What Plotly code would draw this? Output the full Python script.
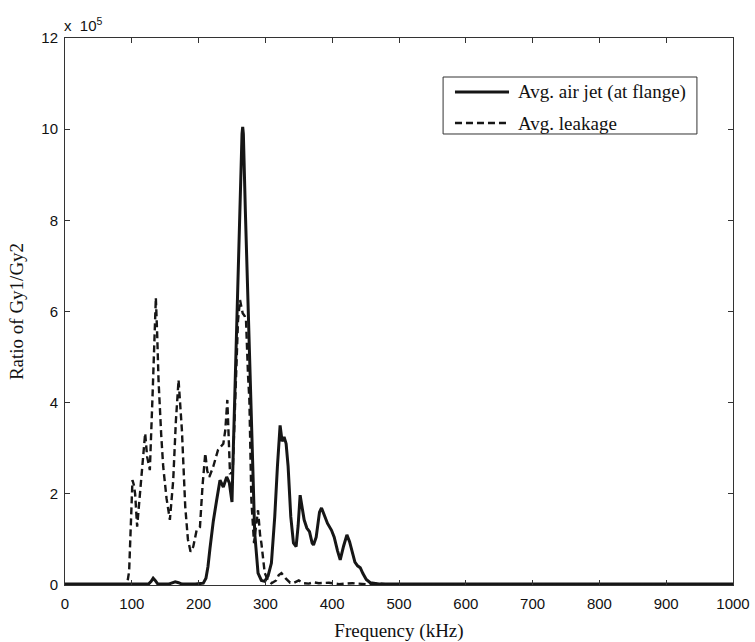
import plotly.graph_objects as go

# Frequency axis (kHz) and Gy1/Gy2 ratio (in units of 1e5) for the air-jet case
freq_air_jet = [0, 60, 110, 125, 129, 132, 135, 139, 155, 160, 165, 170, 175, 195, 207,
                211, 214, 217, 222, 227, 232, 237, 242, 246, 250, 252, 257, 262, 265,
                266, 267, 270, 274, 279, 284, 289, 294, 299, 304, 309, 314, 318, 322,
                325, 328, 331, 334, 338, 342, 346, 349, 352, 355, 358, 362, 366, 370,
                372, 376, 381, 384, 388, 393, 399, 403, 408, 412, 417, 422, 426, 430,
                434, 438, 442, 446, 451, 457, 470, 600, 800, 1000]
ratio_air_jet = [0.02, 0.02, 0.02, 0.02, 0.08, 0.15, 0.1, 0.02, 0.02, 0.05, 0.07, 0.05,
                 0.02, 0.02, 0.04, 0.15, 0.4, 0.8, 1.4, 1.86, 2.3, 2.15, 2.37, 2.24, 1.82,
                 3.0, 5.7, 8.6, 9.9, 10.05, 9.9, 8.2, 6.25, 3.3, 1.14, 0.26, 0.1, 0.08,
                 0.2, 0.48, 1.5, 2.6, 3.5, 3.15, 3.25, 3.1, 2.6, 1.5, 0.92, 0.84, 1.3,
                 1.97, 1.7, 1.43, 1.25, 1.17, 0.92, 0.88, 1.05, 1.6, 1.69, 1.55, 1.35,
                 1.2, 1.05, 0.75, 0.55, 0.85, 1.1, 0.95, 0.75, 0.5, 0.42, 0.38, 0.25,
                 0.12, 0.05, 0.02, 0.02, 0.02, 0.02]

# Leakage case
freq_leakage = [0, 93, 96, 99, 101, 103, 105, 108, 112, 116, 120, 123, 127, 131, 134, 136,
                138, 140, 144, 147, 152, 157, 162, 166, 170, 172, 175, 180, 184, 188, 192,
                197, 202, 206, 210, 213, 216, 222, 229, 237, 240, 243, 245, 247, 251, 255,
                259, 262, 264, 266, 269, 271, 274, 276, 279, 283, 286, 289, 292, 294, 299,
                304, 309, 316, 320, 324, 330, 337, 343, 350, 357, 365, 372, 380, 395, 410,
                430, 450, 470, 490, 1000]
ratio_leakage = [0.02, 0.02, 0.3, 1.5, 2.3, 2.2, 2.0, 1.28, 2.0, 2.8, 3.33, 2.81, 2.52,
                 4.13, 5.6, 6.3, 5.5, 4.5, 3.3, 2.6, 1.9, 1.43, 2.3, 3.6, 4.5, 4.1, 3.4,
                 1.72, 1.0, 0.73, 0.84, 1.2, 1.27, 2.2, 2.89, 2.5, 2.37, 2.6, 2.96, 3.1,
                 3.4, 4.06, 3.2, 2.45, 2.45, 4.2, 5.8, 6.25, 6.1, 5.96, 5.9, 5.8, 4.6,
                 4.06, 1.86, 0.92, 1.3, 1.64, 1.1, 0.92, 0.26, 0.1, 0.04, 0.1, 0.22, 0.26,
                 0.15, 0.05, 0.05, 0.1, 0.04, 0.03, 0.06, 0.04, 0.05, 0.02, 0.04, 0.02,
                 0.03, 0.0, 0.0]

series_names = ["Avg. air jet (at flange)", "Avg. leakage"]
x_ticks = list(range(0, 1001, 100))
y_ticks = list(range(0, 13, 2))

ink = "#161616"
frame = "#333"
serif = "Liberation Serif, Times New Roman, serif"
sans = "Liberation Sans, Arial, sans-serif"

line_styles = [dict(color=ink, width=3),
               dict(color=ink, width=2.4, dash="7px,4px")]

fig = go.Figure()
fig.add_trace(go.Scatter(x=freq_air_jet, y=ratio_air_jet, mode="lines",
                         name=series_names[0], showlegend=False, line=line_styles[0]))
fig.add_trace(go.Scatter(x=freq_leakage, y=ratio_leakage, mode="lines",
                         name=series_names[1], showlegend=False, line=line_styles[1]))

axis_common = dict(showline=True, linecolor=frame, linewidth=1, mirror="ticks",
                   ticks="inside", ticklen=5, tickcolor=frame, showgrid=False,
                   zeroline=False, automargin=False,
                   tickfont=dict(family=sans, size=15, color="#111"))

fig.update_xaxes(range=[0, 1000], tickvals=x_ticks, ticklabelstandoff=5,
                 title=dict(text="Frequency (kHz)", standoff=12,
                            font=dict(family=serif, size=19, color="#111")),
                 **axis_common)
fig.update_yaxes(range=[0, 12], tickvals=y_ticks, ticklabelstandoff=3,
                 title=dict(text="Ratio of Gy1/Gy2", standoff=12,
                            font=dict(family=serif, size=19, color="#111")),
                 **axis_common)

# Exponent label above the y axis
fig.add_annotation(text="x&nbsp;&nbsp;10<sup>5</sup>", xref="paper", yref="paper", x=0, y=1,
                   xanchor="left", yanchor="bottom", showarrow=False, yshift=2, xshift=-3,
                   font=dict(family=sans, size=15, color="#111"))

# Boxed legend in the upper right of the axes
box_x0, box_x1, box_y0, box_y1 = 0.566, 0.946, 0.8245, 0.9287
key_x0, key_x1, text_x = 0.5838, 0.6647, 0.6751
row_y = [0.9013, 0.8446]
fig.add_shape(type="rect", xref="paper", yref="paper", x0=box_x0, x1=box_x1,
              y0=box_y0, y1=box_y1, line=dict(color=frame, width=1), fillcolor="white",
              layer="above")
for name, style, yy in zip(series_names, line_styles, row_y):
    fig.add_shape(type="line", xref="paper", yref="paper", x0=key_x0, x1=key_x1,
                  y0=yy, y1=yy, line=style, layer="above")
    fig.add_annotation(text=name, xref="paper", yref="paper", x=text_x, y=yy,
                       xanchor="left", yanchor="middle", showarrow=False,
                       font=dict(family=serif, size=19, color="#111"))

fig.update_layout(
    width=755, height=642,
    margin=dict(l=65, r=22, t=38, b=57),
    paper_bgcolor="white", plot_bgcolor="white",
    showlegend=False,
)

fig.write_html("out.html")
